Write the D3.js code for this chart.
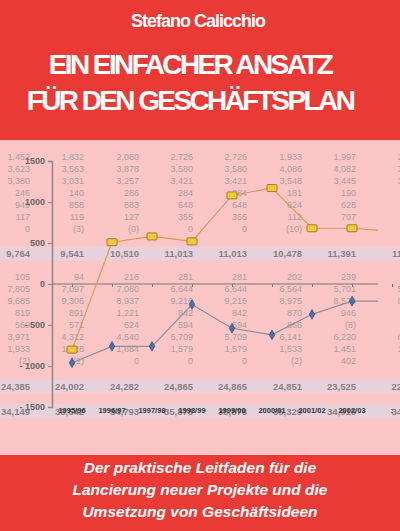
<!DOCTYPE html>
<html><head><meta charset="utf-8">
<script src="https://cdn.jsdelivr.net/npm/d3@7"></script>
<style>body{margin:0;background:#ea3a36}svg{display:block}</style>
</head><body><div id="chart"></div>
<script>
// Kategorien und Reihen
const years = ["1995/96","1996/97","1997/98","1998/99","1999/00","2000/01","2001/02","2002/03",":"];
const seriesA = [-800, 510, 580, 520, 1080, 1170, 680, 680, 640];
const seriesB = [-960, -760, -760, -250, -540, -620, -370, -210, -210];
const yTicks = [1500, 1000, 500, 0, -500, -1000, -1500];

// Hintergrund-Tabelle (Zeilen)
const tableTop = [
  ["1,452","1,832","2,080","2,726","2,726","1,933","1,997","2,4"],
  ["3,623","3,563","3,878","3,580","3,580","4,086","4,082","3,7"],
  ["3,380","3,031","3,257","3,421","3,421","3,548","3,445","3,4"],
  ["246","140","286","284","284","181","190","1"],
  ["949","858","883","648","648","624","628","7"],
  ["117","119","127","355","355","112","707","7"],
  ["0","(3)","(0)","0","0","(10)","2","2"]
];
const tableMid = [
  ["105","94","216","281","281","202","239","1"],
  ["7,805","7,097","7,080","6,644","6,644","6,564","5,701","5,6"],
  ["9,685","9,306","8,937","9,216","9,216","8,975","8,574","8,4"],
  ["819","891","1,221","842","842","870","946","7"],
  ["569","571","624","594","594","868","(8)","("],
  ["3,971","4,312","4,540","5,709","5,709","6,141","6,220","6,0"],
  ["1,933","1,928","1,684","1,579","1,579","1,533","1,451","1,4"],
  ["(2)","(2)","0","0","0","(2)","402","4"]
];
const totals1 = ["9,764","9,541","10,510","11,013","11,013","10,478","11,391","11,5"];
const totals2 = ["24,385","24,002","24,282","24,865","24,865","24,851","23,525","22,8"];
const totals3 = ["34,149","33,542","34,793","35,878","35,878","35,329","34,915","34,5"];

const W = 400, H = 531;
const svg = d3.select("#chart").append("svg").attr("width", W).attr("height", H);
const ff = "Liberation Sans, Arial, sans-serif";

// Titel
svg.append("text").attr("x", 198).attr("y", 27).attr("text-anchor", "middle")
  .attr("fill", "#fff").attr("font-family", ff).attr("font-weight", "bold")
  .attr("font-size", 18).attr("letter-spacing", -1).text("Stefano Calicchio");
["EIN EINFACHER ANSATZ", "FÜR DEN GESCHÄFTSPLAN"].forEach((t, i) => {
  svg.append("text").attr("x", 190).attr("y", 74 + i * 36).attr("text-anchor", "middle")
    .attr("fill", "#fff").attr("font-family", ff).attr("font-weight", "bold")
    .attr("font-size", 28).attr("letter-spacing", -2.6).text(t);
});

// Panel
const g = svg.append("g");
g.append("rect").attr("x", 0).attr("y", 140).attr("width", W).attr("height", 315).attr("fill", "#fcc6c6");
[[247, 13], [380, 13], [404, 14]].forEach(([y, h]) =>
  g.append("rect").attr("x", 0).attr("y", y).attr("width", W).attr("height", h).attr("fill", "#e7d2dc"));

// Tabellenzahlen
const colRight = [30, 84, 139, 193, 247, 302, 356, 410];
function row(vals, y, bold) {
  g.append("g").selectAll("text").data(vals).join("text")
    .attr("x", (d, i) => colRight[i]).attr("y", y).attr("text-anchor", "end")
    .attr("font-family", ff).attr("font-size", bold ? 9.5 : 9)
    .attr("font-weight", bold ? "bold" : "normal")
    .attr("fill", bold ? "#8d7f82" : "#ad9c9c").text(d => d);
}
tableTop.forEach((r, i) => row(r, 160 + i * 12, false));
row(totals1, 257, true);
tableMid.forEach((r, i) => row(r, 280 + i * 12, false));
row(totals2, 390, true);
row(totals3, 415, true);

// Skalen
const x = d3.scalePoint().domain(years).range([72, 392]);
const y = d3.scaleLinear().domain([-1500, 1500]).range([407, 161]);

const ya = g.append("g").attr("transform", "translate(52,0)")
  .call(d3.axisLeft(y).tickValues(yTicks).tickSize(4).tickFormat(d => d < 0 ? "- " + (-d) : d));
ya.select(".domain").attr("stroke", "#888").attr("stroke-width", 1.5);
ya.selectAll("line").attr("stroke", "#888");
ya.selectAll("text").attr("fill", "#666").attr("font-family", ff).attr("font-size", 9).attr("font-weight", "bold");

const xa = g.append("g").attr("transform", `translate(0,${y(0)})`)
  .call(d3.axisBottom(x).tickSize(3).tickFormat(""));
xa.select(".domain").attr("d", `M52,0H378`).attr("stroke", "#777");
xa.selectAll("line").attr("stroke", "#777");

g.append("g").selectAll("text").data(years).join("text")
  .attr("x", d => x(d)).attr("y", 413).attr("text-anchor", "middle")
  .attr("font-family", ff).attr("font-size", 7.5).attr("font-weight", "bold")
  .attr("fill", "#333").text(d => d);

// Linien
g.append("clipPath").attr("id", "clip").append("rect").attr("x", 0).attr("y", 140).attr("width", 378).attr("height", 315);
const line = d3.line().x((d, i) => x(years[i])).y(d => y(d));
const lines = g.append("g").attr("clip-path", "url(#clip)");
lines.append("path").attr("d", line(seriesA)).attr("fill", "none").attr("stroke", "#d89a55").attr("stroke-width", 1.2);
lines.append("path").attr("d", line(seriesB)).attr("fill", "none").attr("stroke", "#8a8f9e").attr("stroke-width", 1.2);

g.append("g").selectAll("rect").data(seriesA.slice(0, 8)).join("rect")
  .attr("x", (d, i) => x(years[i]) - 5).attr("y", d => y(d) - 3.5)
  .attr("width", 10).attr("height", 7).attr("rx", 1)
  .attr("fill", "#f2c93a").attr("stroke", "#8a6a1a").attr("stroke-width", 0.8);
g.append("g").selectAll("path").data(seriesB.slice(0, 8)).join("path")
  .attr("d", d3.symbol().type(d3.symbolDiamond).size(28))
  .attr("transform", (d, i) => `translate(${x(years[i])},${y(d)})`)
  .attr("fill", "#4d6fa3").attr("stroke", "#2c4a7a").attr("stroke-width", 0.6);

// Untertitel
["Der praktische Leitfaden für die", "Lancierung neuer Projekte und die", "Umsetzung von Geschäftsideen"].forEach((t, i) => {
  svg.append("text").attr("x", 200).attr("y", 473 + i * 22).attr("text-anchor", "middle")
    .attr("fill", "#fff").attr("font-family", ff).attr("font-weight", "bold")
    .attr("font-style", "italic").attr("font-size", 15.5).text(t);
});
</script></body></html>
